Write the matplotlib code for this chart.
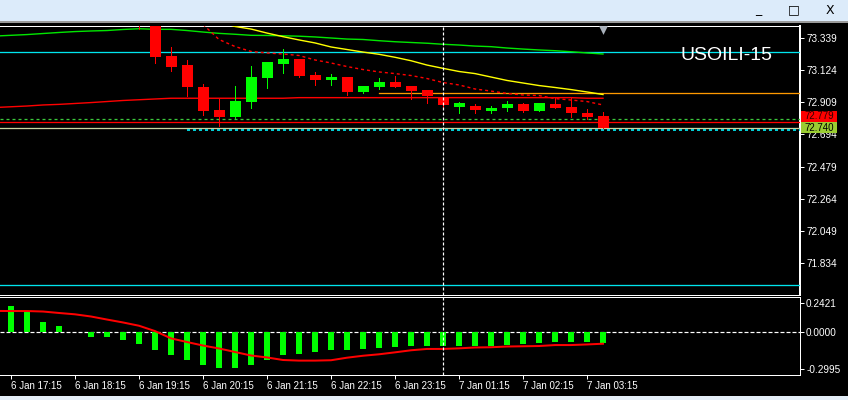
import numpy as np
import matplotlib
matplotlib.use("Agg")
import matplotlib.pyplot as plt
import matplotlib.transforms as mtransforms
from matplotlib.patches import Rectangle

plt.rcParams['font.family'] = ['Liberation Sans', 'DejaVu Sans']
plt.rcParams['axes.unicode_minus'] = False
plt.rcParams['lines.scale_dashes'] = False

# ---------------- data ----------------
symbol = "USOILI-15"
time_labels = ["6 Jan 17:15", "6 Jan 18:15", "6 Jan 19:15", "6 Jan 20:15", "6 Jan 21:15",
               "6 Jan 22:15", "6 Jan 23:15", "7 Jan 01:15", "7 Jan 02:15", "7 Jan 03:15"]
time_label_bars = [0, 4, 8, 12, 16, 20, 24, 28, 32, 36]

candle_bars = list(range(8, 38))
opens = [73.470, 73.440, 73.219, 73.158, 73.011, 72.857, 72.812, 72.913, 73.073, 73.167,
         73.199, 73.091, 73.058, 73.078, 72.980, 73.011, 73.045, 73.018, 72.991, 72.944,
         72.879, 72.884, 72.851, 72.871, 72.897, 72.853, 72.897, 72.875, 72.839, 72.817]
highs = [73.480, 73.450, 73.279, 73.192, 73.031, 72.931, 73.018, 73.152, 73.180, 73.265,
         73.200, 73.112, 73.100, 73.080, 73.020, 73.071, 73.085, 73.020, 72.993, 72.946,
         72.911, 72.897, 72.884, 72.918, 72.904, 72.905, 72.941, 72.944, 72.862, 72.844]
lows = [73.399, 73.174, 73.120, 72.953, 72.824, 72.750, 72.807, 72.873, 73.006, 73.107,
        73.080, 73.025, 73.025, 72.958, 72.969, 72.998, 73.009, 72.931, 72.901, 72.874,
        72.839, 72.834, 72.835, 72.853, 72.844, 72.850, 72.869, 72.812, 72.795, 72.734]
closes = [73.440, 73.214, 73.147, 73.013, 72.853, 72.812, 72.918, 73.078, 73.178, 73.199,
          73.087, 73.060, 73.078, 72.980, 73.018, 73.045, 73.011, 72.986, 72.953, 72.891,
          72.902, 72.857, 72.871, 72.897, 72.851, 72.902, 72.871, 72.834, 72.812, 72.740]

nan = float('nan')
ma_bars = list(range(-1, 38))
ma_green = [73.352, 73.357, 73.362, 73.369, 73.376, 73.382, 73.386, 73.389, 73.396, 73.401,
            73.397, 73.397, 73.389, 73.379, 73.370, 73.364, 73.357, 73.356, 73.354, 73.351,
            73.346, 73.339, 73.332, 73.329, 73.321, 73.314, 73.309, 73.304, 73.297, 73.292,
            73.285, 73.281, 73.272, 73.265, 73.259, 73.254, 73.247, 73.239, 73.232]
ma_yellow = [nan] * 14 + [73.450, 73.416, 73.399, 73.372, 73.348, 73.326, 73.306, 73.279,
                          73.262, 73.245, 73.230, 73.210, 73.187, 73.158, 73.136, 73.115,
                          73.101, 73.078, 73.055, 73.038, 73.021, 73.008, 72.994, 72.978, 72.961]
ma_red_dashed = [nan] * 13 + [73.430, 73.329, 73.282, 73.249, 73.239, 73.232, 73.222, 73.192,
                              73.172, 73.148, 73.128, 73.112, 73.101, 73.088, 73.068, 73.041,
                              73.025, 72.998, 72.984, 72.968, 72.958, 72.954, 72.934, 72.924,
                              72.914, 72.891]
ma_red_slow = [72.874, 72.879, 72.884, 72.891, 72.895, 72.901, 72.907, 72.914, 72.921, 72.926,
               72.931, 72.936, 72.936, 72.936, 72.936, 72.936, 72.936, 72.936, 72.936, 72.940,
               72.940, 72.940, 72.940, 72.940, 72.940, 72.940, 72.940, 72.940, 72.940, 72.940,
               72.940, 72.940, 72.940, 72.940, 72.940, 72.940, 72.940, 72.936, 72.936]

price_ticks = [73.339, 73.124, 72.909, 72.694, 72.479, 72.264, 72.049, 71.834]
price_tick_labels = ["73.339", "73.124", "72.909", "72.694", "72.479", "72.264", "72.049", "71.834"]
level_cyan_top = 73.243
level_orange = 72.971
level_orange_start = 23
level_green_dashed = 72.795
level_red = 72.779
bid_price = 72.740
level_cyan_dashed = 72.724
level_cyan_dashed_start = 11
level_cyan_bottom = 71.687
separator_bar = 27
shift_marker_bar = 37

osc_bars = list(range(0, 38))
osc_hist = [0.216, 0.167, 0.085, 0.052, 0.003, -0.036, -0.036, -0.063, -0.096, -0.146,
            -0.187, -0.228, -0.269, -0.294, -0.294, -0.269, -0.228, -0.187, -0.179, -0.162,
            -0.146, -0.146, -0.137, -0.129, -0.121, -0.113, -0.113, -0.113, -0.113, -0.113,
            -0.113, -0.105, -0.096, -0.088, -0.080, -0.080, -0.080, -0.088]
osc_signal_bars = list(range(-1, 38))
osc_signal = [0.176, 0.175, 0.175, 0.171, 0.159, 0.148, 0.130, 0.105, 0.081, 0.054,
              0.010, -0.050, -0.080, -0.109, -0.133, -0.162, -0.191, -0.207, -0.228, -0.233,
              -0.233, -0.230, -0.209, -0.193, -0.181, -0.165, -0.148, -0.137, -0.137, -0.132,
              -0.125, -0.123, -0.117, -0.115, -0.113, -0.105, -0.105, -0.100, -0.094]
osc_ticks = [0.2421, 0.0, -0.2995]
osc_tick_labels = ["0.2421", "0.0000", "-0.2995"]

# ---------------- layout ----------------
W, H = 848, 400
fig = plt.figure(figsize=(W / 100, H / 100), dpi=100, facecolor='black')
PX = 72 / 100  # points per pixel


def fy(py):
    return 1 - py / H


plot_right = 800
main_top, main_bot = 26, 294.5
ind_top, ind_bot = 296.5, 375
bar_px = 16
bar0_px = 11

# window chrome
fig.patches.append(Rectangle((0, fy(21)), 1, 21 / H, transform=fig.transFigure,
                             facecolor='#dcebfa', edgecolor='none', zorder=0))
fig.patches.append(Rectangle((0, fy(22.5)), 1, 1.5 / H, transform=fig.transFigure,
                             facecolor='#9a9a9a', edgecolor='none', zorder=0))
fig.patches.append(Rectangle((0, 0), 1, 4 / H, transform=fig.transFigure,
                             facecolor='#e4eef8', edgecolor='none', zorder=0))
for xpx, s in [(758, "_"), (794, "\u25a1"), (830, "X")]:
    fig.text(xpx / W, fy(10), s, color='black', fontsize=9, ha='center', va='center',
             family=['DejaVu Sans'])

ax = fig.add_axes([0, fy(main_bot), plot_right / W, (main_bot - main_top) / H])
axi = fig.add_axes([0, fy(ind_bot), plot_right / W, (ind_bot - ind_top) / H])

xlim = (-bar0_px / bar_px, (plot_right - bar0_px) / bar_px)
ppx = 0.215 / 32.14
ax.set_ylim(73.339 - (main_bot - 38) * ppx, 73.339 + (38 - main_top) * ppx)
opx = 1 / 121.5
axi.set_ylim(-(ind_bot - 332.3) * opx, (332.3 - ind_top) * opx)

for a in (ax, axi):
    a.set_facecolor('black')
    a.set_xlim(*xlim)
    a.spines['left'].set_visible(False)
    for side in ('top', 'bottom', 'right'):
        a.spines[side].set_color('white')
        a.spines[side].set_linewidth(1.0 * PX)
    a.yaxis.tick_right()
    a.tick_params(axis='y', colors='white', length=4 * PX, width=PX, pad=1.5,
                  labelsize=7.2, direction='out')
ax.spines['right'].set_linewidth(2 * PX)

# ---------------- main panel ----------------
bull, bear = '#00ff00', '#ff0000'
cols = [bull if c >= o else bear for o, c in zip(opens, closes)]
ax.vlines(candle_bars, lows, highs, colors=cols, lw=PX, antialiased=False, zorder=5)
body_bot = [min(o, c) for o, c in zip(opens, closes)]
body_h = [max(abs(c - o), 1.5 * ppx) for o, c in zip(opens, closes)]
ax.bar(candle_bars, body_h, bottom=body_bot, width=11 / bar_px, color=cols, lw=0,
       antialiased=False, zorder=6)

ax.plot(ma_bars, ma_green, color='#00e600', lw=1.4 * PX, zorder=4)
ax.plot(ma_bars, ma_yellow, color='#ffff00', lw=1.4 * PX, zorder=4)
ax.plot(ma_bars, ma_red_dashed, color='#ff0000', lw=1.4 * PX, ls=(0, (3 * PX, 3 * PX)), zorder=4)
ax.plot(ma_bars, ma_red_slow, color='#ff0000', lw=1.4 * PX, zorder=4)

ax.axhline(level_cyan_top, color='#00e5ee', lw=1.3 * PX, zorder=3)
ax.axhline(level_cyan_bottom, color='#00e5ee', lw=1.3 * PX, zorder=3)
ax.plot([level_orange_start, xlim[1]], [level_orange, level_orange], color='#ff9900',
        lw=1.3 * PX, zorder=3)
ax.axhline(level_green_dashed, color='#3cc83c', lw=1.3 * PX, ls=(0, (3 * PX, 3 * PX)), zorder=3)
ax.axhline(level_red, color='#ff0000', lw=1.3 * PX, zorder=3)
ax.axhline(bid_price, color='#c8d2a0', lw=1.3 * PX, zorder=3)
ax.plot([level_cyan_dashed_start, xlim[1]], [level_cyan_dashed, level_cyan_dashed],
        color='#00e5ee', lw=1.8 * PX, ls=(0, (3 * PX, 3 * PX)), zorder=3)

ax.axvline(separator_bar, color='white', lw=1.2 * PX, ls=(0, (3 * PX, 2 * PX)), zorder=7)
axi.axvline(separator_bar, color='white', lw=1.2 * PX, ls=(0, (3 * PX, 2 * PX)), zorder=7)

ax.set_yticks(price_ticks)
ax.set_yticklabels(price_tick_labels)
ax.set_xticks([])

tr = ax.get_xaxis_transform()
ax.scatter([shift_marker_bar], [1 - 3.5 / (main_bot - main_top)], marker='v', s=40,
           color='#a8b0ba', transform=tr, zorder=8, linewidths=0, clip_on=False)

ax.text(680 / plot_right, 1 - (56 - main_top) / (main_bot - main_top), symbol,
        transform=ax.transAxes, color='white', fontsize=14, ha='left', va='center',
        family=['Liberation Sans'], zorder=9)

# price labels on the scale (red one nudged up so both stay readable)
btr = mtransforms.blended_transform_factory(ax.transAxes, ax.transData)
lx0, lx1 = 801 / plot_right, 837 / plot_right
red_lbl_c = level_red + 5.5 * ppx
ax.add_patch(Rectangle((lx0, red_lbl_c - 5.5 * ppx), lx1 - lx0, 11 * ppx, transform=btr,
                       facecolor='#ff0000', edgecolor='none', clip_on=False, zorder=10))
ax.text((lx0 + lx1) / 2, red_lbl_c, f"{level_red:.3f}", transform=btr, color='#300000',
        fontsize=7.0, ha='center', va='center', clip_on=False, zorder=11)
ax.add_patch(Rectangle((lx0, bid_price - 5.5 * ppx), lx1 - lx0, 11 * ppx, transform=btr,
                       facecolor='#9acd32', edgecolor='none', clip_on=False, zorder=12))
ax.text((lx0 + lx1) / 2, bid_price, f"{bid_price:.3f}", transform=btr, color='black',
        fontsize=7.0, ha='center', va='center', clip_on=False, zorder=13)

# ---------------- oscillator panel ----------------
axi.bar(osc_bars, osc_hist, width=6 / bar_px, color='#00ff00', lw=0, antialiased=False, zorder=4)
axi.plot(osc_signal_bars, osc_signal, color='#ff0000', lw=2 * PX, zorder=5)
axi.axhline(0, color='white', lw=1.2 * PX, ls=(0, (4 * PX, 2 * PX)), zorder=3)
axi.set_yticks(osc_ticks)
axi.set_yticklabels(osc_tick_labels)

axi.set_xticks(time_label_bars)
axi.set_xticklabels(time_labels)
axi.tick_params(axis='x', colors='white', length=4 * PX, width=PX, pad=1.5, labelsize=7.0,
                direction='out')
for lbl in axi.get_xticklabels():
    lbl.set_horizontalalignment('left')

fig.savefig('out.png', dpi=100, facecolor='black')
